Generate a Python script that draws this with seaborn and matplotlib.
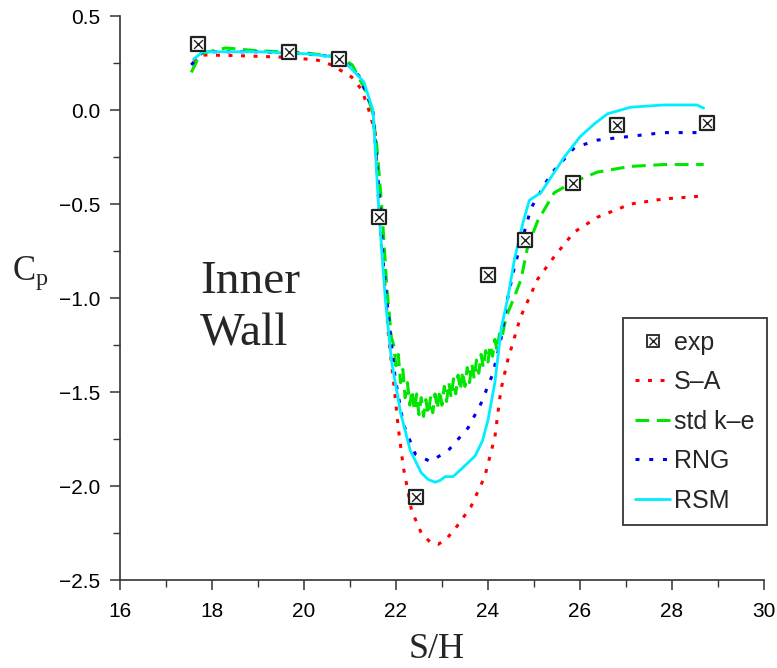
import matplotlib
matplotlib.use("Agg")
import matplotlib.pyplot as plt
from matplotlib.ticker import MultipleLocator
from matplotlib.legend_handler import HandlerTuple
from matplotlib.lines import Line2D
import seaborn as sns

# ---------------- data ----------------
exp_x = [17.69, 19.68, 20.76, 21.64, 22.44, 24.0, 24.8, 25.84, 26.81, 28.76]
exp_y = [0.35, 0.31, 0.27, -0.57, -2.06, -0.88, -0.69, -0.39, -0.08, -0.07]

sa_x = [17.6, 17.73, 18.5, 19.68, 20.3, 20.6, 21.04, 21.26, 21.41, 21.55, 21.62, 21.69,
        21.77, 21.84, 21.95, 22.05, 22.16, 22.34, 22.55, 22.75, 22.92, 23.1, 23.28, 23.63,
        23.93, 24.15, 24.28, 24.43, 24.71, 25.08, 25.44, 25.87, 26.38, 27.1, 27.82, 28.69]
sa_y = [0.26, 0.293, 0.29, 0.28, 0.265, 0.24, 0.175, 0.106, 0.0, -0.12, -0.48, -0.745,
        -0.96, -1.21, -1.45, -1.69, -1.90, -2.13, -2.25, -2.30, -2.31, -2.28, -2.23, -2.11,
        -1.95, -1.74, -1.49, -1.33, -1.10, -0.90, -0.78, -0.65, -0.57, -0.50, -0.473, -0.457]

ke_x = [17.55, 17.75, 18.3, 19.0, 20.0, 20.8, 21.05, 21.22, 21.33, 21.48, 21.58, 21.69,
        21.8, 21.9, 21.95, 22.0, 22.05, 22.1, 22.15, 22.2, 22.25, 22.3, 22.35, 22.4, 22.45,
        22.5, 22.55, 22.6, 22.65, 22.7, 22.75, 22.8, 22.85, 22.9, 22.95, 23.0, 23.05, 23.1,
        23.15, 23.2, 23.25, 23.3, 23.35, 23.4, 23.45, 23.5, 23.55, 23.6, 23.65, 23.7, 23.75,
        23.8, 23.85, 23.9, 23.95, 24.0, 24.05, 24.1, 24.15, 24.2, 24.25, 24.3, 24.35, 24.43,
        24.58, 24.72, 24.86, 25.08, 25.44, 25.88, 26.38, 27.09, 27.82, 28.69]
ke_y = [0.20, 0.30, 0.33, 0.315, 0.305, 0.28, 0.24, 0.16, 0.106, 0.0, -0.18, -0.51,
        -0.94, -1.21, -1.25, -1.36, -1.30, -1.45, -1.38, -1.53, -1.45, -1.57, -1.49, -1.60, -1.51,
        -1.62, -1.53, -1.63, -1.54, -1.62, -1.53, -1.61, -1.51, -1.59, -1.49, -1.57, -1.47, -1.55,
        -1.45, -1.53, -1.43, -1.51, -1.41, -1.49, -1.39, -1.47, -1.37, -1.45, -1.35, -1.43, -1.33,
        -1.40, -1.30, -1.37, -1.28, -1.34, -1.25, -1.31, -1.22, -1.28, -1.19, -1.22, -1.15, -1.08,
        -0.99, -0.90, -0.73, -0.59, -0.44, -0.38, -0.33, -0.30, -0.29, -0.29]

rng_x = [17.55, 17.8, 19.0, 20.0, 20.8, 21.2, 21.5, 21.65, 21.73, 21.84, 21.98, 22.16,
         22.42, 22.75, 23.14, 23.57, 23.85, 24.11, 24.29, 24.43, 24.58, 24.94, 25.37,
         25.88, 26.38, 27.09, 27.82, 28.69]
rng_y = [0.24, 0.31, 0.31, 0.30, 0.28, 0.18, 0.0, -0.5, -0.83, -1.10, -1.42, -1.67,
         -1.83, -1.87, -1.81, -1.69, -1.56, -1.40, -1.21, -1.0, -0.83, -0.52, -0.34,
         -0.20, -0.16, -0.14, -0.12, -0.12]

rsm_x = [17.6, 17.8, 19.0, 20.0, 20.8, 21.3, 21.5, 21.62, 21.69, 21.77, 21.9, 22.1,
         22.31, 22.55, 22.7, 22.85, 22.96, 23.07, 23.24, 23.42, 23.72, 23.88, 24.0, 24.15,
         24.29, 24.43, 24.58, 24.76, 24.9, 25.15, 25.66, 26.01, 26.33, 26.6, 27.1, 27.82,
         28.54, 28.69]
rsm_y = [0.27, 0.31, 0.31, 0.30, 0.28, 0.15, 0.0, -0.5, -0.745, -1.01, -1.33, -1.61,
         -1.81, -1.93, -1.965, -1.98, -1.97, -1.95, -1.95, -1.91, -1.84, -1.76, -1.65, -1.45,
         -1.16, -1.0, -0.79, -0.60, -0.48, -0.44, -0.25, -0.14, -0.07, -0.02, 0.015, 0.027,
         0.027, 0.01]

x_ticks = [16, 18, 20, 22, 24, 26, 28, 30]
y_ticks = [0.5, 0.0, -0.5, -1.0, -1.5, -2.0, -2.5]
series_labels = ["exp", "S\u2013A", "std k\u2013e", "RNG", "RSM"]

# ---------------- style ----------------
sns.set_style("ticks")
plt.rcParams["font.family"] = ["Liberation Sans", "DejaVu Sans"]
plt.rcParams["mathtext.default"] = "regular"

fig = plt.figure(figsize=(7.77, 6.68), dpi=100)
ax = fig.add_axes([0.1544, 0.1317, 0.8288, 0.8443])

spine_c = "#333333"

sns.lineplot(x=sa_x, y=sa_y, ax=ax, sort=False, estimator=None, color="#ff0000",
             lw=2.2, linestyle=(0, (1.3, 2.8)), label=series_labels[1])
sns.lineplot(x=ke_x, y=ke_y, ax=ax, sort=False, estimator=None, color="#00e600",
             lw=2.2, linestyle=(0, (4.5, 2.5)), label=series_labels[2])
sns.lineplot(x=rng_x, y=rng_y, ax=ax, sort=False, estimator=None, color="#0000ee",
             lw=2.2, linestyle=(0, (1.3, 3.2)), label=series_labels[3])
sns.lineplot(x=rsm_x, y=rsm_y, ax=ax, sort=False, estimator=None, color="#00eeff",
             lw=2.0, linestyle="-", label=series_labels[4])

sns.scatterplot(x=exp_x, y=exp_y, ax=ax, marker="s", s=95, facecolor="white",
                edgecolor="#222222", linewidth=1.6, zorder=5)
sns.scatterplot(x=exp_x, y=exp_y, ax=ax, marker="x", s=40, color="#222222",
                linewidth=1.0, zorder=6)

ax.set_xlim(16, 30)
ax.set_ylim(-2.5, 0.5)
ax.set_xticks(x_ticks)
ax.set_yticks(y_ticks)
ax.set_yticklabels([f"{v:.1f}".replace("-", "\u2212") for v in y_ticks])
ax.xaxis.set_minor_locator(MultipleLocator(1))
ax.yaxis.set_minor_locator(MultipleLocator(0.25))
ax.tick_params(which="major", direction="out", length=7, width=1.1, colors=spine_c,
               labelsize=15, labelcolor="black", pad=7)
ax.tick_params(axis="x", which="major", pad=9)
ax.tick_params(which="minor", direction="out", length=5, width=1.0, colors=spine_c)
for s in ["top", "right"]:
    ax.spines[s].set_visible(False)
for s in ["left", "bottom"]:
    ax.spines[s].set_color(spine_c)
    ax.spines[s].set_linewidth(1.2)
ax.set_xlabel("")
ax.set_ylabel("")

serif = ["Liberation Serif", "DejaVu Serif"]
fig.text(437 / 777, 1 - 658 / 668, "S/H", ha="center", va="baseline",
         fontsize=26, family=serif)
fig.text(12 / 777, 1 - 280 / 668, r"C$_{\mathregular{p}}$", ha="left", va="baseline",
         fontsize=25, family=serif)
ax.text(17.75, -0.973, "Inner", ha="left", va="baseline", fontsize=34, family=serif)
ax.text(17.73, -1.25, "Wall", ha="left", va="baseline", fontsize=34, family=serif)

# legend
sq = Line2D([], [], marker="s", ls="none", markersize=9, markerfacecolor="white",
            markeredgecolor="#222222", markeredgewidth=1.3)
xx = Line2D([], [], marker="x", ls="none", markersize=6, color="#222222",
            markeredgewidth=1.0)
lines = ax.get_lines()[:4]
handles = [(sq, xx)] + lines
leg = ax.legend(handles, series_labels, handler_map={tuple: HandlerTuple(ndivide=1)},
                loc="upper left", bbox_to_anchor=((623 - 120) / 644, (580 - 318) / 564),
                fontsize=18, frameon=True, fancybox=False, framealpha=1,
                edgecolor="#444444", handlelength=1.4, handletextpad=0.15,
                borderpad=0.5, labelspacing=0.62, borderaxespad=0)
leg.get_frame().set_linewidth(1.4)

fig.savefig("out.png", dpi=100)
